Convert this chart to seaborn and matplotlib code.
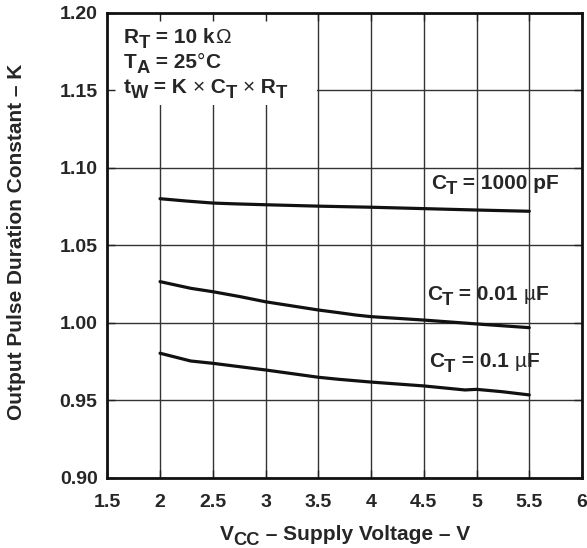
import matplotlib
matplotlib.use("Agg")
import matplotlib.pyplot as plt
from matplotlib.patches import Rectangle
import seaborn as sns
import pandas as pd

# ---- data ----
x_1000pF = [2.0, 2.25, 2.5, 2.7, 3.0, 3.5, 4.0, 4.5, 5.0, 5.5]
k_1000pF = [1.0800, 1.0785, 1.0772, 1.0767, 1.0761, 1.0752, 1.0745, 1.0736, 1.0727, 1.0719]

x_001uF = [2.0, 2.29, 2.5, 2.76, 3.0, 3.5, 3.69, 3.85, 4.0, 4.5, 5.0, 5.5]
k_001uF = [1.0265, 1.0222, 1.0200, 1.0168, 1.0135, 1.0082, 1.0065, 1.0050, 1.0039, 1.0017, 0.9992, 0.9968]

x_01uF = [2.0, 2.29, 2.5, 3.0, 3.5, 3.69, 4.0, 4.5, 4.89, 5.0, 5.24, 5.5]
k_01uF = [0.9803, 0.9753, 0.9738, 0.9695, 0.9648, 0.9635, 0.9617, 0.9592, 0.9566, 0.9570, 0.9555, 0.9534]

series_names = ["1000 pF", "0.01 uF", "0.1 uF"]

# rich text segments: n = normal bold, s = subscript, l = light symbol
curve_labels = [
    [("C", "n"), ("T", "s"), (" = 1000 pF", "n")],
    [("C", "n"), ("T", "s"), (" = 0.01 ", "n"), ("µ", "l"), ("F", "n")],
    [("C", "n"), ("T", "s"), (" = 0.1 ", "n"), ("µ", "l"), ("F", "n")],
]
label_x = [4.565, 4.53, 4.55]
label_y = [1.0863, 1.0146, 0.9716]

info_lines = [
    [("R", "n"), ("T", "s"), (" = 10 k", "n"), ("Ω", "l")],
    [("T", "n"), ("A", "s"), (" = 25", "n"), ("°", "l"), ("C", "n")],
    [("t", "n"), ("W", "s"), (" = K ", "n"), ("×", "l"), (" C", "n"), ("T", "s"), (" ", "n"),
     ("×", "l"), (" R", "n"), ("T", "s")],
]
info_y = [0.9355, 0.882, 0.827]

x_label = [("V", "n"), ("CC", "s"), (" – Supply Voltage – V", "n")]
y_label = "Output Pulse Duration Constant – K"

x_ticks = [1.5, 2, 2.5, 3, 3.5, 4, 4.5, 5, 5.5, 6]
x_ticklabels = ["1.5", "2", "2.5", "3", "3.5", "4", "4.5", "5", "5.5", "6"]
y_ticks = [0.90, 0.95, 1.00, 1.05, 1.10, 1.15, 1.20]
y_ticklabels = ["0.90", "0.95", "1.00", "1.05", "1.10", "1.15", "1.20"]

# ---- build long table ----
df = pd.concat([
    pd.DataFrame({"V": x_1000pF, "K": k_1000pF, "C": series_names[0]}),
    pd.DataFrame({"V": x_001uF, "K": k_001uF, "C": series_names[1]}),
    pd.DataFrame({"V": x_01uF, "K": k_01uF, "C": series_names[2]}),
], ignore_index=True)

sns.set_style("white")
plt.rcParams["font.family"] = ["Liberation Sans", "DejaVu Sans"]
plt.rcParams["font.weight"] = "bold"

FS = 15
TFS = 14
SUB_SCALE = 0.88
SUB_DROP = 3.6  # points

fig = plt.figure(figsize=(5.87, 5.48), dpi=100)
pos = [0.1828, 0.1283, 0.8087, 0.8485]
ax = fig.add_axes(pos)

sns.lineplot(data=df, x="V", y="K", hue="C", units="C", estimator=None, sort=False,
             palette={n: "#111111" for n in series_names}, legend=False,
             linewidth=2.3, ax=ax, zorder=3)

ax.set_xlim(1.5, 6)
ax.set_ylim(0.90, 1.20)
ax.set_xticks(x_ticks)
ax.set_xticklabels(x_ticklabels, fontsize=TFS, fontweight="bold")
ax.set_yticks(y_ticks)
ax.set_yticklabels(y_ticklabels, fontsize=TFS, fontweight="bold")
ax.set_axisbelow(True)
ax.grid(True, color="#333333", linewidth=1.0)
ax.tick_params(axis="x", length=0, pad=12)
ax.tick_params(axis="y", length=0, pad=7)
for s in ax.spines.values():
    s.set_visible(False)
ax.set_xlabel("")
ax.set_ylabel(y_label, fontsize=FS, fontweight="bold")
ax.yaxis.set_label_coords(-0.171, 0.507)


def rich_text(x, y, segs, transform, fs):
    arts = []
    first = ax.text(x, y, segs[0][0], transform=transform, fontsize=fs,
                    fontweight="bold", ha="left", va="baseline", zorder=4)
    arts.append(first)
    prev, prev_off = first, 0.0
    for txt, kind in segs[1:]:
        off = -SUB_DROP if kind == "s" else 0.0
        size = fs * SUB_SCALE if kind == "s" else fs
        weight = "normal" if kind == "l" else "bold"
        a = ax.annotate(txt, xy=(1, 0), xycoords=prev, xytext=(0, off - prev_off),
                        textcoords="offset points", fontsize=size, fontweight=weight,
                        ha="left", va="bottom", zorder=4, annotation_clip=False)
        arts.append(a)
        prev, prev_off = a, off
    return arts


# white box behind the condition text
ax.add_patch(Rectangle((1.5, 1.1405), 1.985, 0.0595, facecolor="white", edgecolor="none", zorder=1))
for yy, segs in zip(info_y, info_lines):
    rich_text(0.035, yy, segs, ax.transAxes, FS)

for lx, ly, segs in zip(label_x, label_y, curve_labels):
    rich_text(lx, ly, segs, ax.transData, FS)

xl = rich_text(0.233, -0.134, x_label, ax.transAxes, FS)

# overlay axes: frame and inward ticks on top of everything
ax2 = fig.add_axes(pos, sharex=ax, sharey=ax)
ax2.patch.set_alpha(0)
ax2.grid(False)
ax2.tick_params(direction="in", length=6, width=1.0, color="#222222",
                top=True, right=True, bottom=True, left=True,
                labelbottom=False, labelleft=False)
for s in ax2.spines.values():
    s.set_visible(True)
    s.set_linewidth(2.0)
    s.set_color("#111111")

# center the x label under the axes
fig.canvas.draw()
r = fig.canvas.get_renderer()
exts = [a.get_window_extent(r) for a in xl]
x0 = min(e.x0 for e in exts)
x1 = max(e.x1 for e in exts)
axbb = ax.get_window_extent(r)
shift = ((axbb.x0 + axbb.x1) / 2 - (x0 + x1) / 2) / axbb.width
xl[0].set_x(xl[0].get_position()[0] + shift)

fig.savefig("out.png", dpi=100)
